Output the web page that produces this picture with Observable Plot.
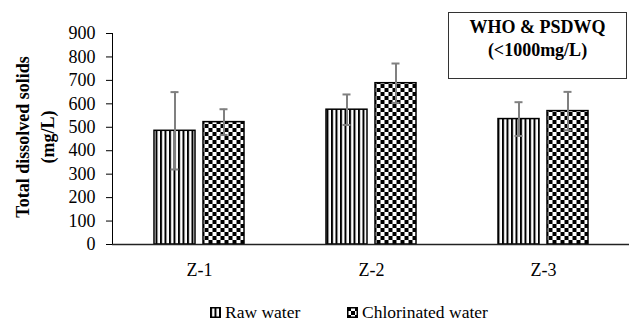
<!DOCTYPE html>
<html>
<head>
<meta charset="utf-8">
<script src="https://cdn.jsdelivr.net/npm/d3@7"></script>
<script src="https://cdn.jsdelivr.net/npm/@observablehq/plot@0.6"></script>
<style>
  html, body { margin: 0; padding: 0; background: #fff; }
  #wrap { position: relative; width: 629px; height: 323px; font-family: "Liberation Serif", "DejaVu Serif", serif; color: #000; }
  #note { position: absolute; left: 448px; top: 12px; width: 177px; height: 62px; border: 1.5px solid #333;
          font-weight: bold; font-size: 18px; line-height: 23px; text-align: center; padding-top: 3px; box-sizing: content-box; }
  .leg { position: absolute; top: 302px; height: 20px; font-size: 17.5px; line-height: 20px; white-space: nowrap; display: flex; align-items: center; }
  .leg svg { margin-right: 4px; }
</style>
</head>
<body>
<div id="wrap">
  <div id="chart"></div>
  <div id="note">WHO &amp; PSDWQ<br>(&lt;1000mg/L)</div>
  <div class="leg" style="left:210px"><svg width="11" height="11"><rect x="0.75" y="0.75" width="9.5" height="9.5" fill="url(#stripes)" stroke="#000" stroke-width="1.5"/></svg>Raw water</div>
  <div class="leg" style="left:347px"><svg width="11" height="11"><rect x="0.75" y="0.75" width="9.5" height="9.5" fill="url(#checker)" stroke="#000" stroke-width="1.5"/></svg>Chlorinated water</div>
</div>
<script>
const zones = ["Z-1", "Z-2", "Z-3"];
const seriesNames = ["Raw water", "Chlorinated water"];
const rawValues = [485, 575, 535];
const rawErrors = [165, 65, 72];
const chlorValues = [522, 688, 569];
const chlorErrors = [55, 84, 82];
const yTicks = [0, 100, 200, 300, 400, 500, 600, 700, 800, 900];
const yLabel = "Total dissolved solids\n(mg/L)";

const raw = zones.map((z, i) => ({zone: z, series: seriesNames[0], value: rawValues[i], lo: rawValues[i] - rawErrors[i], hi: rawValues[i] + rawErrors[i]}));
const chl = zones.map((z, i) => ({zone: z, series: seriesNames[1], value: chlorValues[i], lo: chlorValues[i] - chlorErrors[i], hi: chlorValues[i] + chlorErrors[i]}));

const barInset = 65.5, capInset = 82, off = 24.5;
const errMarks = (d, dx) => [
  Plot.ruleX(d, {x: "zone", y1: "lo", y2: "hi", dx, stroke: "#808080", strokeWidth: 2}),
  Plot.tickY(d, {x: "zone", y: "hi", dx, insetLeft: capInset, insetRight: capInset, stroke: "#808080", strokeWidth: 2}),
  Plot.tickY(d, {x: "zone", y: "lo", dx, insetLeft: capInset, insetRight: capInset, stroke: "#808080", strokeWidth: 2})
];

const chart = Plot.plot({
  width: 629,
  height: 290,
  marginTop: 33,
  marginBottom: 46,
  marginLeft: 112,
  marginRight: 0,
  style: {fontFamily: "Liberation Serif, DejaVu Serif, serif", fontSize: "18px", color: "#000", background: "white"},
  x: {domain: zones, padding: 0, tickSize: 0, tickPadding: 19, label: null},
  y: {domain: [0, 900], ticks: yTicks, tickSize: 6, tickPadding: 11, line: true, label: null},
  marks: [
    Plot.barY(raw, {x: "zone", y: "value", dx: -off, insetLeft: barInset, insetRight: barInset, fill: "url(#stripes)", stroke: "#000", strokeWidth: 1.5}),
    Plot.barY(chl, {x: "zone", y: "value", dx: off, insetLeft: barInset, insetRight: barInset, fill: "url(#checker)", stroke: "#000", strokeWidth: 1.5}),
    ...errMarks(raw, -off),
    ...errMarks(chl, off),
    Plot.ruleY([0], {stroke: "#222", strokeWidth: 1.5}),
    Plot.text([yLabel], {text: d => d, frameAnchor: "left", dx: -79, dy: -2, rotate: -90, fontWeight: "bold", fontSize: 18, lineHeight: 1.4, textAnchor: "middle", lineAnchor: "middle"})
  ]
});

const svg = d3.select(chart);
const defs = svg.insert("defs", ":first-child");
const p1 = defs.append("pattern").attr("id", "stripes").attr("patternUnits", "userSpaceOnUse").attr("width", 4.5).attr("height", 10);
p1.append("rect").attr("width", 4.5).attr("height", 10).attr("fill", "#fff");
p1.append("rect").attr("x", 0).attr("width", 2).attr("height", 10).attr("fill", "#000");
const p2 = defs.append("pattern").attr("id", "checker").attr("patternUnits", "userSpaceOnUse").attr("width", 8).attr("height", 8);
p2.append("rect").attr("width", 8).attr("height", 8).attr("fill", "#fff");
p2.append("rect").attr("x", 0).attr("y", 0).attr("width", 4).attr("height", 4).attr("fill", "#000");
p2.append("rect").attr("x", 4).attr("y", 4).attr("width", 4).attr("height", 4).attr("fill", "#000");

document.getElementById("chart").appendChild(chart);
</script>
</body>
</html>
